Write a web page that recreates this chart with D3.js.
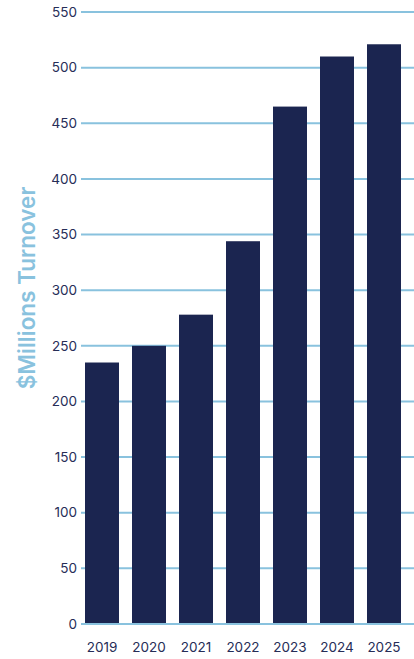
<!DOCTYPE html>
<html>
<head>
<meta charset="utf-8">
<script src="https://cdn.jsdelivr.net/npm/d3@7"></script>
<style>
  body { margin: 0; background: #fff; }
  svg { display: block; }
</style>
</head>
<body>
<script>
var years = ['2019', '2020', '2021', '2022', '2023', '2024', '2025'];
var turnover = [235, 250, 278, 344, 465, 510, 521];
var yTicks = [0, 50, 100, 150, 200, 250, 300, 350, 400, 450, 500, 550];

var width = 414, height = 659;
var gridColor = '#89c2de', barColor = '#1b2550', textColor = '#262d57';

var svg = d3.select('body').append('svg')
    .attr('width', width)
    .attr('height', height);

var x = d3.scaleBand()
    .domain(years)
    .range([78.5, 407.5])
    .paddingInner(0.2766)
    .paddingOuter(0.1383);

var y = d3.scaleLinear()
    .domain([0, 550])
    .range([624, 12]);

// gridlines behind bars
svg.selectAll('line.grid').data(yTicks).enter().append('line')
    .attr('class', 'grid')
    .attr('x1', 81)
    .attr('x2', width)
    .attr('y1', function(d) { return y(d); })
    .attr('y2', function(d) { return y(d); })
    .attr('stroke', gridColor)
    .attr('stroke-width', 2);

svg.selectAll('text.ytick').data(yTicks).enter().append('text')
    .attr('class', 'ytick')
    .attr('x', 77)
    .attr('y', function(d) { return y(d); })
    .attr('dy', '0.35em')
    .attr('text-anchor', 'end')
    .attr('font-family', 'Inter, sans-serif')
    .attr('font-size', 13.5)
    .attr('fill', textColor)
    .text(function(d) { return d; });

svg.selectAll('rect.bar').data(turnover).enter().append('rect')
    .attr('class', 'bar')
    .attr('x', function(d, i) { return x(years[i]); })
    .attr('width', x.bandwidth())
    .attr('y', function(d) { return y(d); })
    .attr('height', function(d) { return y(0) - y(d) - 1; })
    .attr('fill', barColor);

svg.selectAll('text.xtick').data(years).enter().append('text')
    .attr('class', 'xtick')
    .attr('x', function(d) { return x(d) + x.bandwidth() / 2; })
    .attr('y', 652)
    .attr('text-anchor', 'middle')
    .attr('font-family', 'Inter, sans-serif')
    .attr('font-size', 13.5)
    .attr('fill', textColor)
    .text(function(d) { return d; });

svg.append('text')
    .attr('transform', 'translate(35,' + 288 + ') rotate(-90)')
    .attr('text-anchor', 'middle')
    .attr('font-family', 'Inter, sans-serif')
    .attr('font-weight', 600)
    .attr('font-size', 22.5)
    .attr('fill', gridColor)
    .text('$Millions Turnover');
</script>
</body>
</html>
